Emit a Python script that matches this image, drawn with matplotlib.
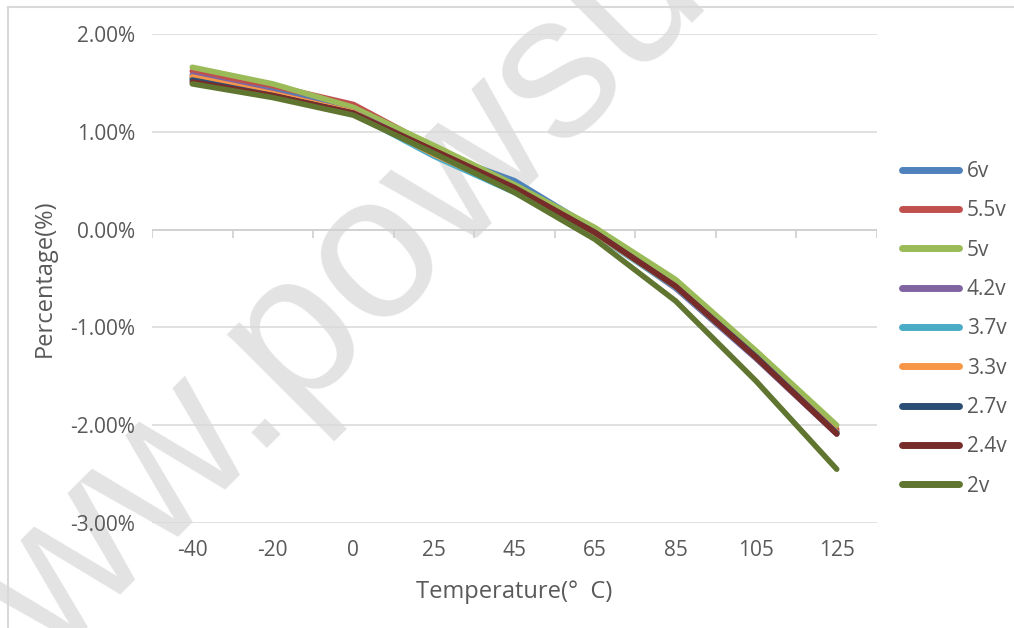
import matplotlib
matplotlib.use("Agg")
import matplotlib.pyplot as plt
from matplotlib.lines import Line2D

categories = ["-40", "-20", "0", "25", "45", "65", "85", "105", "125"]
series_names = ["6v", "5.5v", "5v", "4.2v", "3.7v", "3.3v", "2.7v", "2.4v", "2v"]

v6_0 = [1.55, 1.43, 1.22, 0.80, 0.50, 0.00, -0.55, -1.28, -2.06]
v5_5 = [1.62, 1.47, 1.28, 0.84, 0.45, 0.01, -0.53, -1.26, -2.04]
v5_0 = [1.66, 1.49, 1.25, 0.86, 0.46, 0.02, -0.51, -1.24, -2.00]
v4_2 = [1.58, 1.40, 1.20, 0.80, 0.40, -0.03, -0.60, -1.32, -2.09]
v3_7 = [1.55, 1.38, 1.19, 0.75, 0.38, -0.05, -0.59, -1.31, -2.08]
v3_3 = [1.56, 1.39, 1.20, 0.77, 0.40, -0.04, -0.58, -1.30, -2.07]
v2_7 = [1.53, 1.37, 1.19, 0.80, 0.42, -0.03, -0.58, -1.30, -2.08]
v2_4 = [1.51, 1.37, 1.19, 0.81, 0.43, -0.03, -0.58, -1.31, -2.09]
v2_0 = [1.49, 1.35, 1.17, 0.78, 0.38, -0.10, -0.73, -1.55, -2.45]

series_values = [v6_0, v5_5, v5_0, v4_2, v3_7, v3_3, v2_7, v2_4, v2_0]
colors = ["#4F81BD", "#C0504D", "#9BBB59", "#8064A2", "#4BACC6",
          "#F79646", "#2C4D75", "#772C2A", "#5F7530"]

y_ticks = [2, 1, 0, -1, -2, -3]
y_ticklabels = ["2.00%", "1.00%", "0.00%", "-1.00%", "-2.00%", "-3.00%"]

plt.rcParams["font.family"] = ["Open Sans", "DejaVu Sans"]
text_color = "#595959"

fig = plt.figure(figsize=(10.14, 6.28), dpi=100)
W, H = 1014, 628

# watermark behind the axes
fig.text(-52 / W, 1 - 768 / H, "www.powsun.com", rotation=45,
         rotation_mode="anchor", ha="left", va="baseline",
         fontsize=148, family="Liberation Sans", color="#e3e3e3", zorder=-5)

# outer frame (top and left edges)
fig.add_artist(Line2D([8 / W, 1.0], [1 - 7 / H, 1 - 7 / H], transform=fig.transFigure,
                      color="#d9d9d9", lw=1.5))
fig.add_artist(Line2D([8 / W, 8 / W], [0.0, 1 - 7 / H], transform=fig.transFigure,
                      color="#d9d9d9", lw=1.5))

ax = fig.add_axes([152 / W, 1 - 523 / H, 725 / W, 489 / H])
ax.set_facecolor("none")

x = list(range(len(categories)))
for name, vals, c in zip(series_names, series_values, colors):
    ax.plot(x, vals, color=c, lw=4.0, label=name, solid_capstyle="round",
            solid_joinstyle="round", zorder=3)

ax.set_xlim(-0.5, len(categories) - 0.5)
ax.set_ylim(-3, 2)
ax.set_yticks(y_ticks)
ax.set_yticklabels(y_ticklabels)
ax.set_xticks(x)
ax.set_xticklabels(categories)
ax.tick_params(axis="both", length=0, labelsize=15, colors=text_color)
ax.tick_params(axis="x", pad=12)
ax.tick_params(axis="y", pad=12)

for s in ax.spines.values():
    s.set_visible(False)

for t in y_ticks:
    ax.axhline(t, color="#d9d9d9", lw=1.1, zorder=1)
ax.axhline(0, color="#cfcfcf", lw=1.2, zorder=1)
ax.vlines([i - 0.5 for i in range(len(categories) + 1)], -0.085, 0,
          color="#cfcfcf", lw=1.2, zorder=1)

ax.set_xlabel("Temperature(°  C)", fontsize=17, color=text_color, labelpad=14)
ax.set_ylabel("Percentage(%)", fontsize=17, color=text_color, labelpad=10)

leg = ax.legend(loc="upper left", bbox_to_anchor=(902 / W, 1 - 161 / H),
                bbox_transform=fig.transFigure, frameon=False, fontsize=15,
                handlelength=2.75, handletextpad=0.35, labelspacing=0.88,
                borderaxespad=0, borderpad=0)
for t in leg.get_texts():
    t.set_color(text_color)
for h in leg.get_lines():
    h.set_linewidth(5)

fig.savefig("out.png", dpi=100)
